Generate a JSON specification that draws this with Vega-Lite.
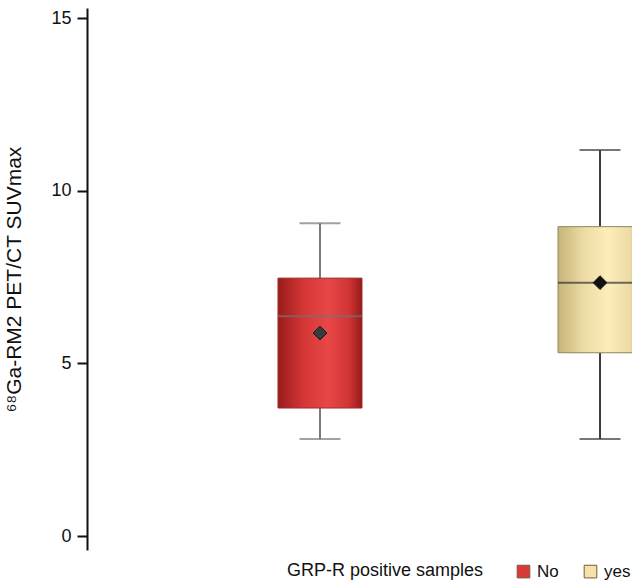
{
  "$schema": "https://vega.github.io/schema/vega-lite/v6.json",
  "autosize": "none",
  "padding": {"left": 87, "top": 8, "right": 0, "bottom": 34},
  "width": 746,
  "height": 542,
  "background": "white",
  "config": {
    "view": {"stroke": null},
    "font": "Liberation Sans"
  },
  "data": {
    "values": [
      {"group": "No", "lower": 2.81, "q1": 3.71, "median": 6.37, "q3": 7.47, "upper": 9.06, "mean": 5.88},
      {"group": "yes", "lower": 2.81, "q1": 5.31, "median": 7.34, "q3": 8.96, "upper": 11.18, "mean": 7.34}
    ]
  },
  "encoding": {
    "x": {"field": "group", "type": "nominal", "axis": null, "scale": {"type": "point", "padding": 0.832}}
  },
  "resolve": {"scale": {"color": "independent", "fill": "independent", "stroke": "independent"}},
  "layer": [
    {
      "mark": {"type": "rule", "strokeWidth": 2},
      "encoding": {
        "y": {"field": "lower", "type": "quantitative",
          "scale": {"domain": [-0.4, 15.29], "nice": false, "zero": false},
          "axis": {"values": [0, 5, 10, 15], "grid": false, "tickSize": 10, "tickWidth": 2, "tickColor": "#111", "domainColor": "#111", "domainWidth": 2,
            "labelFontSize": 18, "labelColor": "#111", "labelPadding": 6,
            "title": "⁶⁸Ga-RM2 PET/CT SUVmax", "titleFontSize": 21, "titleFontWeight": "normal", "titleColor": "#111", "titlePadding": 26}},
        "y2": {"field": "upper"},
        "color": {"field": "group", "type": "nominal", "scale": {"range": ["#7b7b7b", "#3d3d3d"]}, "legend": null}
      }
    },
    {
      "mark": {"type": "bar", "size": 84, "strokeWidth": 1},
      "encoding": {
        "y": {"field": "q1", "type": "quantitative"},
        "y2": {"field": "q3"},
        "fill": {"field": "group", "type": "nominal", "scale": {"range": ["#d83a3a", "#f4e3a8"]},
          "legend": {"title": "GRP-R positive samples", "orient": "none", "legendX": 200, "legendY": 555, "direction": "horizontal",
            "titleOrient": "left", "titleFontSize": 18, "titleFontWeight": "normal", "titleColor": "#111", "titlePadding": 31, "titleLimit": 400,
            "labelFontSize": 17, "labelColor": "#111", "symbolType": "square", "symbolSize": 160, "symbolStrokeWidth": 1, "symbolStrokeColor": "#7a5a3a", "columnPadding": 23, "labelOffset": 5}}
      }
    },
    {
      "transform": [{"filter": "datum.group == 'No'"}],
      "mark": {"type": "bar", "size": 84, "stroke": "#9a3030", "strokeWidth": 1,
        "fill": {"gradient": "linear", "x1": 0, "y1": 0, "x2": 1, "y2": 0,
          "stops": [{"offset": 0, "color": "#9a1b1b"}, {"offset": 0.3, "color": "#d43636"}, {"offset": 0.6, "color": "#e84747"}, {"offset": 0.85, "color": "#cf3434"}, {"offset": 1, "color": "#961919"}]}},
      "encoding": {
        "y": {"field": "q1", "type": "quantitative"},
        "y2": {"field": "q3"}
      }
    },
    {
      "transform": [{"filter": "datum.group == 'yes'"}],
      "mark": {"type": "bar", "size": 84, "stroke": "#8f8560", "strokeWidth": 1,
        "fill": {"gradient": "linear", "x1": 0, "y1": 0, "x2": 1, "y2": 0,
          "stops": [{"offset": 0, "color": "#c6b478"}, {"offset": 0.3, "color": "#ecdba3"}, {"offset": 0.6, "color": "#fdedbb"}, {"offset": 0.85, "color": "#ecdba3"}, {"offset": 1, "color": "#c9b67c"}]}},
      "encoding": {
        "y": {"field": "q1", "type": "quantitative"},
        "y2": {"field": "q3"}
      }
    },
    {
      "mark": {"type": "tick", "size": 84, "thickness": 2},
      "encoding": {
        "y": {"field": "median", "type": "quantitative"},
        "color": {"field": "group", "type": "nominal", "scale": {"range": ["#727272", "#333333"]}, "legend": null}
      }
    },
    {
      "mark": {"type": "tick", "size": 41, "thickness": 2},
      "encoding": {
        "y": {"field": "lower", "type": "quantitative"},
        "color": {"field": "group", "type": "nominal", "scale": {"range": ["#7b7b7b", "#3d3d3d"]}, "legend": null}
      }
    },
    {
      "mark": {"type": "tick", "size": 41, "thickness": 2},
      "encoding": {
        "y": {"field": "upper", "type": "quantitative"},
        "color": {"field": "group", "type": "nominal", "scale": {"range": ["#7b7b7b", "#3d3d3d"]}, "legend": null}
      }
    },
    {
      "mark": {"type": "point", "shape": "diamond", "filled": true, "size": 190, "opacity": 1, "stroke": "#1a1a1a", "strokeWidth": 1},
      "encoding": {
        "y": {"field": "mean", "type": "quantitative"},
        "fill": {"field": "group", "type": "nominal", "scale": {"range": ["#3a3a3a", "#111111"]}, "legend": null}
      }
    }
  ]
}
